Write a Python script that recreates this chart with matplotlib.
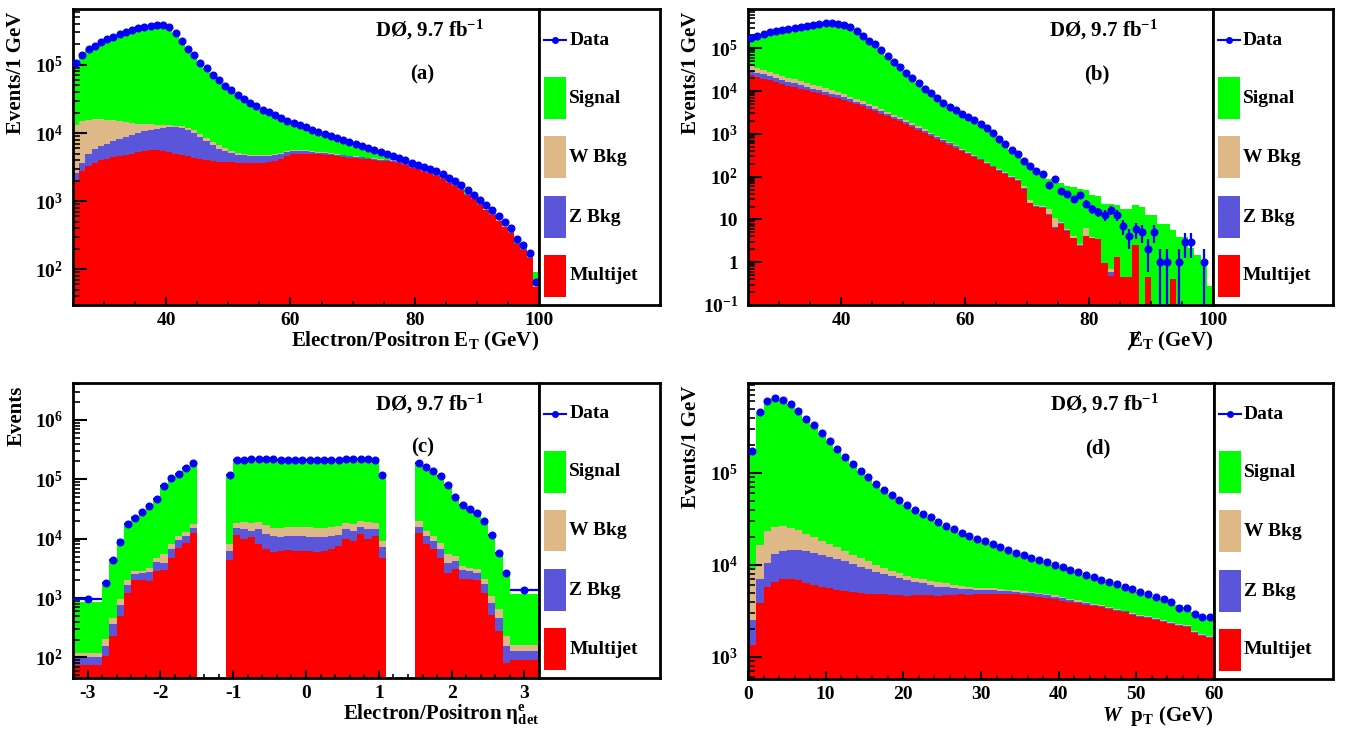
import numpy as np
import matplotlib
matplotlib.use("Agg")
import matplotlib.pyplot as plt
from matplotlib.patches import Rectangle
from matplotlib.lines import Line2D
from matplotlib.transforms import IdentityTransform
from matplotlib.ticker import LogLocator, FuncFormatter, MultipleLocator, NullFormatter

plt.rcParams['font.family'] = ['Liberation Serif', 'DejaVu Serif']
plt.rcParams['font.weight'] = 'bold'
plt.rcParams['axes.labelweight'] = 'bold'
plt.rcParams['mathtext.fontset'] = 'custom'
plt.rcParams['mathtext.rm'] = 'Liberation Serif:bold'
plt.rcParams['mathtext.it'] = 'Liberation Serif:italic:bold'
plt.rcParams['mathtext.bf'] = 'Liberation Serif:bold'
plt.rcParams['mathtext.default'] = 'rm'
plt.rcParams['axes.unicode_minus'] = False
plt.rcParams['axes.linewidth'] = 2.0

# ---- (a) electron E_T, 1 GeV bins from 25 to 100
a_edges = np.arange(25, 101, 1)
a_data = [106000, 140000, 169000, 192000, 219000, 240000, 259000, 284000, 307000, 324000,
          343000, 363000, 375000, 384000, 380000, 355000, 290000, 226000, 171000, 140000,
          108000, 89000, 71000, 59000, 49300, 42200, 36500, 31500, 27600, 24600,
          22000, 20100, 18200, 16600, 15200, 14100, 13000, 12200, 11200, 10400,
          9700, 9000, 8400, 7900, 7350, 6950, 6400, 6000, 5600, 5250,
          4900, 4600, 4300, 3970, 3670, 3430, 3200, 3000, 2740, 2480,
          2210, 1980, 1710, 1460, 1250, 1050, 875, 740, 597, 489,
          408, 279, 228, 174, 65]
a_multijet = [1980, 2770, 3280, 3670, 3990, 4210, 4450, 4660, 4820, 5000,
              5250, 5430, 5610, 5610, 5430, 5250, 5000, 4820, 4590, 4340,
              4200, 4010, 3880, 3800, 3760, 3720, 3670, 3670, 3670, 3670,
              3670, 3700, 3880, 4200, 4590, 4850, 5000, 5000, 4940, 4850,
              4800, 4700, 4590, 4490, 4340, 4300, 4200, 4100, 4010, 3920,
              3840, 3760, 3670, 3370, 3120, 2920, 2720, 2550, 2330, 2110,
              1880, 1680, 1450, 1240, 1060, 890, 740, 630, 510, 415,
              345, 237, 194, 148, 55]
a_zbkg = [640, 900, 1570, 2070, 2430, 2690, 3150, 3540, 3980, 4500,
          4800, 5200, 5390, 5890, 6460, 6850, 7200, 7180, 6650, 5710,
          4600, 3590, 2770, 2070, 1610, 1290, 1120, 1030, 920, 920,
          920, 890, 820, 760, 660, 580, 430, 370, 370, 280,
          250, 240, 230, 220, 210, 200, 190, 180, 170, 160,
          150, 140, 130, 120, 110, 100, 90, 80, 70, 60,
          50, 40, 35, 30, 25, 20, 15, 12, 10, 8,
          6, 4, 3, 2, 1]
a_wbkg = [10680, 11220, 10890, 10560, 9880, 8840, 7800, 6690, 5800, 4570,
          3700, 2970, 2450, 1800, 1260, 900, 600, 580, 760, 950,
          900, 890, 770, 700, 580, 420, 340, 260, 200, 150,
          150, 150, 150, 170, 120, 180, 180, 180, 120, 180,
          150, 140, 130, 120, 110, 100, 95, 90, 85, 80,
          75, 70, 65, 60, 55, 50, 45, 40, 35, 30,
          26, 22, 18, 15, 12, 10, 8, 6, 5, 4,
          3, 2, 2, 1, 1]
a_signal = [92700, 125100, 153300, 175700, 202700, 224300, 243600, 269100, 292400, 309900,
            329250, 349400, 361550, 370700, 366850, 342000, 277200, 213400, 159000, 129000,
            98300, 80500, 63580, 52430, 43350, 36770, 31370, 26540, 22810, 19860,
            17260, 15360, 13350, 11470, 9830, 8490, 7390, 6650, 5770, 5090,
            4500, 3920, 3450, 3070, 2690, 2350, 1915, 1630, 1335, 1090,
            835, 630, 435, 420, 385, 360, 345, 330, 305, 280,
            254, 238, 207, 175, 153, 130, 112, 92, 72, 62,
            54, 36, 40, 30, 33]

# ---- (b) missing E_T, 1 GeV bins from 25 to 100
b_edges = np.arange(25, 101, 1)
b_data = [178000, 195000, 217000, 238000, 255000, 269000, 290000, 306000, 323000, 341000,
          360000, 373000, 386000, 386000, 373000, 353000, 311000, 255000, 195000, 151000,
          124000, 91500, 66100, 48700, 37100, 26900, 20500, 15100, 11500, 9100,
          6950, 5300, 4280, 3570, 2980, 2490, 2080, 1730, 1370, 1050,
          771, 589, 426, 331, 231, 176, 139, 116, 65, 86,
          47, 39, 30, 38, 23, 18, 15, 13, 17, 13,
          7, 4, 6, 5, 2, 5, 1, 1, 0, 1,
          3, 3, 0, 1, 0]
b_multijet = [23400, 21400, 19500, 17800, 16200, 14800, 13500, 12600, 11500, 10500,
              9550, 8910, 8130, 7410, 6760, 6170, 5500, 4900, 4370, 3890,
              3390, 2950, 2570, 2240, 1950, 1700, 1450, 1260, 1070, 912,
              776, 661, 562, 479, 398, 339, 288, 240, 200, 166,
              138, 115, 95, 79, 52, 24, 20, 19, 13, 6.3,
              8, 5.4, 3.6, 2.4, 4.1, 3.7, 3.5, 0.95, 0.48, 1.3,
              0.45, 0.45, 2.5, 0, 0.45, 0, 0, 0, 0.4, 0,
              0, 0, 0, 0, 0]
b_zbkg = [6500, 5800, 5100, 4500, 4000, 3500, 3100, 2800, 2500, 2200,
          1900, 1700, 1500, 1300, 1150, 1000, 880, 760, 650, 560,
          480, 410, 350, 290, 240, 200, 160, 130, 100, 80,
          62, 50, 40, 32, 25, 20, 16, 13, 10, 8,
          6, 5, 4, 3, 1, 0.8, 0.5, 0.5, 0.5, 0.3,
          0.2, 0.2, 0.1, 0.1, 0.1, 0, 0, 0, 0.1, 0,
          0, 0, 0, 0, 0, 0, 0, 0, 0, 0,
          0, 0, 0, 0, 0]
b_wbkg = [8000, 7200, 6500, 5800, 5200, 4600, 4000, 3600, 3200, 2800,
          2500, 2200, 1900, 1650, 1400, 1200, 1000, 850, 720, 600,
          500, 420, 350, 290, 240, 200, 160, 130, 100, 80,
          62, 50, 40, 30, 24, 19, 15, 12, 10, 8,
          7, 6, 5, 4, 8, 3, 1, 1, 4, 4,
          0.5, 0.3, 0.3, 0.2, 2, 0.1, 0, 0, 0.1, 0,
          0, 0, 0, 0, 0, 0, 0, 0, 0, 0,
          0, 0, 0, 0, 0]
b_signal = [140100, 160600, 185900, 209900, 229600, 246100, 269400, 287000, 305800, 325500,
            346000, 360200, 374500, 375600, 363700, 344600, 303600, 248500, 189300, 146000,
            119600, 87700, 62800, 45900, 34700, 24800, 18700, 13600, 10200, 8030,
            6050, 4540, 3640, 3030, 2530, 2110, 1760, 1470, 1150, 868,
            620, 463, 322, 245, 170, 152, 124, 95, 72, 63,
            61, 56, 54, 48, 43, 34, 32, 22, 22, 21,
            17.5, 17.5, 19.5, 20, 12, 12.6, 8, 8, 5.2, 3.9,
            3.9, 2.2, 1.5, 1.0, 0.28]

# ---- (c) electron eta_det, ICR gaps at 1.1 < |eta| < 1.5 are empty
c_edges = np.concatenate([[-3.2], np.linspace(-2.8, -1.5, 14), np.linspace(-1.1, 1.1, 23),
                          np.linspace(1.5, 2.8, 14), [3.2]])
c_data = ([950, 1820, 4360, 8900, 17400, 22400, 27900, 36000, 46500, 76000, 105000, 124000, 155000, 187000]
          + [0]
          + [119000, 212000, 214000, 216000, 222000, 219000, 218000, 214000, 214000, 211000, 210000,
             210000, 210000, 211000, 213000, 215000, 220000, 216000, 218000, 216000, 214000, 119000]
          + [0]
          + [187000, 160000, 136000, 112000, 79000, 50000, 37500, 31800, 27000, 20000, 11700, 5700, 2600, 1370])
c_multijet = ([75, 107, 230, 500, 1200, 2000, 2000, 1950, 2850, 3000, 4650, 7000, 8500, 12300]
              + [0]
              + [4300, 11500, 9700, 10700, 8300, 6800, 5930, 6160, 6400, 6160, 6160,
                 6160, 5930, 6300, 6600, 7500, 9900, 9100, 11800, 9700, 11000, 4760]
              + [0]
              + [12500, 8190, 6580, 4650, 2600, 3030, 2060, 2060, 1990, 1200, 513, 280, 82, 91])
c_zbkg = ([25, 51, 130, 260, 430, 500, 600, 750, 1150, 900, 1950, 2400, 2500, 2900]
          + [0]
          + [1860, 3700, 4900, 3000, 6300, 5400, 5070, 4440, 4600, 4840, 4840,
             4640, 4670, 4500, 4400, 4200, 4700, 4600, 4200, 4900, 3600, 2440]
          + [0]
          + [3300, 2810, 2500, 1930, 1230, 1160, 900, 790, 680, 500, 325, 189, 75, 38])
c_wbkg = ([17, 47, 110, 200, 360, 340, 300, 550, 750, 1660, 1700, 1500, 1900, 2700]
          + [0]
          + [2140, 3300, 4600, 4800, 4600, 4500, 4200, 4600, 4600, 4600, 4600,
             4800, 4600, 4400, 4600, 4500, 3900, 4300, 4000, 4600, 3900, 1800]
          + [0]
          + [3900, 2400, 2220, 1920, 1730, 890, 490, 390, 450, 360, 242, 178, 74, 32])
c_signal = ([753, 1595, 3730, 8740, 16610, 21160, 26500, 34250, 43250, 75440, 101700, 116100, 145100, 170100]
            + [0]
            + [114700, 196500, 198800, 201500, 204800, 203300, 203800, 198800, 197400, 196400, 194400,
               195400, 196800, 197800, 199400, 199800, 203500, 201000, 200000, 197800, 196500, 113000]
            + [0]
            + [167300, 144600, 119700, 103500, 73440, 44620, 33950, 28460, 23980, 18140, 10620, 4990, 2270, 1000])

# ---- (d) W p_T, 1 GeV bins from 0 to 60
d_edges = np.arange(0, 61, 1)
d_data = [172000, 459000, 605000, 647000, 621000, 556000, 471000, 388000, 328000, 269000,
          221000, 183000, 150000, 125000, 106000, 89700, 76500, 65800, 58000, 50300,
          44400, 39800, 36000, 32800, 29400, 26800, 24700, 22500, 20700, 19200,
          18000, 16800, 15600, 14600, 13600, 12700, 12000, 11300, 10700, 10000,
          9440, 8820, 8310, 7780, 7330, 6860, 6470, 6150, 5800, 5470,
          5120, 4830, 4520, 4220, 3920, 3430, 3370, 2900, 2730, 2690]
d_multijet = [1340, 3820, 5800, 6580, 6980, 6980, 6800, 6410, 6050, 5800,
              5560, 5400, 5250, 5120, 4900, 4830, 4830, 4800, 4710, 4710,
              4640, 4670, 4710, 4670, 4580, 4670, 4710, 4800, 4760, 4830,
              4830, 4850, 4830, 4850, 4800, 4710, 4580, 4450, 4360, 4220,
              4050, 3920, 3820, 3660, 3570, 3450, 3310, 3180, 3040, 2860,
              2730, 2620, 2520, 2410, 2270, 2170, 2100, 1800, 1700, 1590]
d_zbkg = [1180, 3160, 4800, 6520, 7220, 7620, 7600, 7590, 7350, 7100,
          6740, 6300, 5650, 5180, 4700, 4170, 3630, 3190, 2880, 2450,
          2220, 1910, 1600, 1380, 1220, 1050, 850, 680, 670, 560,
          510, 490, 380, 320, 320, 290, 320, 350, 320, 300,
          280, 230, 170, 160, 107, 104, 99, 95, 91, 86,
          82, 79, 76, 72, 68, 65, 63, 54, 51, 48]
d_wbkg = [6300, 9520, 12500, 12700, 12000, 10500, 9300, 7800, 6600, 5500,
          4600, 3900, 3100, 2600, 2200, 1900, 1540, 1210, 1080, 950,
          770, 670, 670, 600, 670, 590, 490, 420, 370, 250,
          250, 220, 270, 220, 190, 200, 180, 150, 150, 160,
          160, 150, 130, 130, 71, 69, 66, 64, 61, 57,
          55, 52, 50, 48, 45, 43, 42, 36, 34, 32]
d_signal = [163000, 442500, 581900, 621200, 594800, 530900, 447300, 366200, 308000, 250600,
            204100, 167400, 136000, 112100, 94200, 78800, 66500, 56600, 49300, 42200,
            36800, 32600, 29000, 26200, 22900, 20500, 18650, 16600, 14900, 13560,
            12410, 11240, 10120, 9210, 8290, 7500, 6920, 6350, 5870, 5320,
            4950, 4520, 4190, 3830, 3580, 3240, 3000, 2810, 2610, 2470,
            2250, 2080, 1870, 1690, 1540, 1370, 1300, 1210, 1070, 970]

layer_names = ['Multijet', 'Z Bkg', 'W Bkg', 'Signal']
layer_colors = {'Multijet': '#ff0000', 'Z Bkg': '#5a55d9', 'W Bkg': '#deb887', 'Signal': '#00ff00'}
data_color = '#0000ff'

W, H = 1345, 731
fig = plt.figure(figsize=(W / 100, H / 100), dpi=100)


def px_rect(x0, y0, x1, y1):
    return [x0 / W, 1 - y1 / H, (x1 - x0) / W, (y1 - y0) / H]


def log_label(v, pos):
    e = int(round(np.log10(v)))
    if e == 0:
        return '1'
    if e == 1:
        return '10'
    return r'$10^{%d}$' % e


def draw_panel(rect, leg_rect, edges, layers, data, xlim, ylim, xmaj, xmin,
               xlabel, ylabel, tag, xerr=False):
    ax = fig.add_axes(px_rect(*rect))
    ax.set_yscale('log')
    edges = np.asarray(edges, float)
    cum = np.zeros(len(edges) - 1)
    for name, vals in zip(layer_names, layers):
        top = cum + np.asarray(vals, float)
        ax.stairs(np.maximum(top, 1e-6), edges, baseline=np.maximum(cum, 1e-6),
                  fill=True, color=layer_colors[name], lw=0)
        cum = top

    # data points with poisson errors
    data = np.asarray(data, float)
    centers = 0.5 * (edges[1:] + edges[:-1])
    half = 0.5 * (edges[1:] - edges[:-1])
    m = data > 0
    err = np.sqrt(data[m])
    lo = np.minimum(err, data[m] * 0.9999)
    ax.errorbar(centers[m], data[m], yerr=[lo, err], xerr=half[m] if xerr else None,
                fmt='o', color=data_color, ms=4.8, elinewidth=1.6, capsize=0, zorder=5)

    ax.set_xlim(*xlim)
    ax.set_ylim(*ylim)
    ax.xaxis.set_major_locator(MultipleLocator(xmaj))
    ax.xaxis.set_minor_locator(MultipleLocator(xmin))
    ax.yaxis.set_major_locator(LogLocator(base=10))
    ax.yaxis.set_minor_locator(LogLocator(base=10, subs=np.arange(2, 10)))
    ax.yaxis.set_major_formatter(FuncFormatter(log_label))
    ax.yaxis.set_minor_formatter(NullFormatter())
    ax.tick_params(which='both', direction='in', top=False, right=False, labelsize=14)
    ax.tick_params(axis='y', which='major', length=10, width=1.5, pad=7)
    ax.tick_params(axis='y', which='minor', length=5, width=1.2)
    ax.tick_params(axis='x', which='major', length=6, width=1.5, pad=5)
    ax.tick_params(axis='x', which='minor', length=3, width=1.2)

    ax.set_xlabel(xlabel, fontsize=15, loc='right')
    ax.xaxis.set_label_coords(1.0, -0.085)
    ax.set_ylabel(ylabel, fontsize=15, loc='top')
    ax.yaxis.set_label_coords(-0.1, 0.99)

    ax.text(0.765, 0.93, r'DØ, 9.7 fb$^{-1}$', transform=ax.transAxes,
            ha='center', va='center', fontsize=15)
    ax.text(0.75, 0.78, tag, transform=ax.transAxes, ha='center', va='center', fontsize=15)

    # legend box to the right of the frame
    lg = fig.add_axes(px_rect(*leg_rect))
    lg.set_xlim(0, 1)
    lg.set_ylim(0, 1)
    lg.set_xticks([])
    lg.set_yticks([])
    lg.plot([0.041, 0.223], [0.895, 0.895], color=data_color, lw=1.5)
    lg.plot([0.132], [0.895], 'o', color=data_color, ms=4)
    lg.text(0.25, 0.895, 'Data', va='center', fontsize=14)
    for y, name in zip([0.699, 0.5, 0.297, 0.098], ['Signal', 'W Bkg', 'Z Bkg', 'Multijet']):
        lg.add_patch(Rectangle((0.041, y - 0.071), 0.182, 0.142, color=layer_colors[name], lw=0))
        lg.text(0.25, y, name, va='center', fontsize=14)
    return ax


draw_panel((73, 9, 539, 305), (539, 9, 660, 305), a_edges,
           [a_multijet, a_zbkg, a_wbkg, a_signal], a_data, (25, 100), (30, 6.6e5), 20, 5,
           r'Electron/Positron E$_{\mathrm{T}}$ (GeV)', 'Events/1 GeV', '(a)')
ax_b = draw_panel((748, 9, 1213, 305), (1213, 9, 1333, 305), b_edges,
                  [b_multijet, b_zbkg, b_wbkg, b_signal], b_data, (25, 100), (0.1, 8.3e5), 20, 5,
                  r'E$_{\mathrm{T}}$ (GeV)', 'Events/1 GeV', '(b)')
draw_panel((73, 383, 539, 678), (539, 383, 660, 678), c_edges,
           [c_multijet, c_zbkg, c_wbkg, c_signal], c_data, (-3.2, 3.2), (45, 4.2e6), 1, 0.2,
           r'Electron/Positron $\eta^{e}_{det}$', 'Events', '(c)', xerr=True)
draw_panel((748, 383, 1214, 679), (1214, 383, 1333, 679), d_edges,
           [d_multijet, d_zbkg, d_wbkg, d_signal], d_data, (0, 60), (575, 9.5e5), 10, 2,
           r'$\mathit{W}$  p$_{\mathrm{T}}$ (GeV)', 'Events/1 GeV', '(d)')

# slash through the E of the missing-E_T label (drawn as a line, in display pixels)
fig.canvas.draw()
bb = ax_b.xaxis.label.get_window_extent(fig.canvas.get_renderer())
e_top = bb.y1 - 3
fig.add_artist(Line2D([bb.x0 + 1, bb.x0 + 11], [e_top - 16, e_top + 1],
                      transform=IdentityTransform(), color='black', lw=1.4))

fig.savefig('out.png', dpi=100)
